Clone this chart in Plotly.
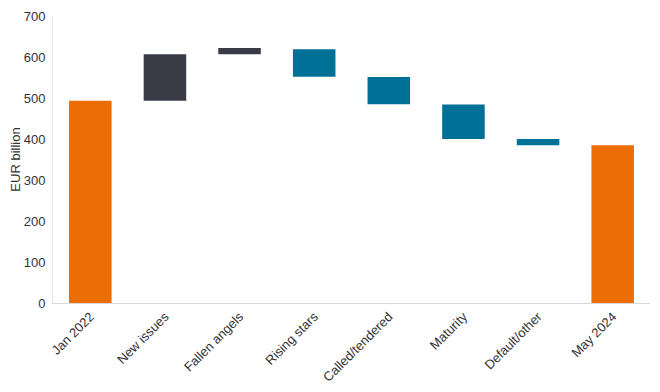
import plotly.graph_objects as go

categories = ["Jan 2022", "New issues", "Fallen angels", "Rising stars",
              "Called/tendered", "Maturity", "Default/other", "May 2024"]
bar_start = [0, 493, 607, 619, 551, 484, 400, 0]
bar_end = [493, 607, 622, 552, 485, 400, 385, 385]
kinds = ["total", "up", "up", "down", "down", "down", "down", "total"]

color_map = {"total": "#ED6D05", "up": "#393C47", "down": "#007196"}

base = [min(s, e) for s, e in zip(bar_start, bar_end)]
length = [abs(e - s) for s, e in zip(bar_start, bar_end)]
colors = [color_map[k] for k in kinds]

fig = go.Figure(go.Bar(
    x=categories, y=length, base=base,
    marker=dict(color=colors, line=dict(width=0)),
    hoverinfo="skip",
))

fig.update_layout(
    width=660, height=392,
    margin=dict(l=45, r=18, t=8, b=97),
    paper_bgcolor="white", plot_bgcolor="white",
    bargap=0.43,
    showlegend=False,
    font=dict(family="Liberation Sans, Arial, sans-serif", size=13, color="#333333"),
)
fig.update_xaxes(
    tickangle=-45, showline=True, linecolor="#D9D9D9", linewidth=1,
    showgrid=False, ticks="", tickfont=dict(size=13, color="#333333"),
    automargin=False,
)
fig.update_yaxes(
    range=[0, 700], dtick=100, showline=True, linecolor="#E6E6E6", linewidth=1,
    showgrid=False, zeroline=False, ticks="", ticklabelstandoff=4,
    tickfont=dict(size=13, color="#333333"), automargin=False,
    title=dict(text="EUR billion", font=dict(size=13, color="#333333")),
)

fig.write_html("out.html")
